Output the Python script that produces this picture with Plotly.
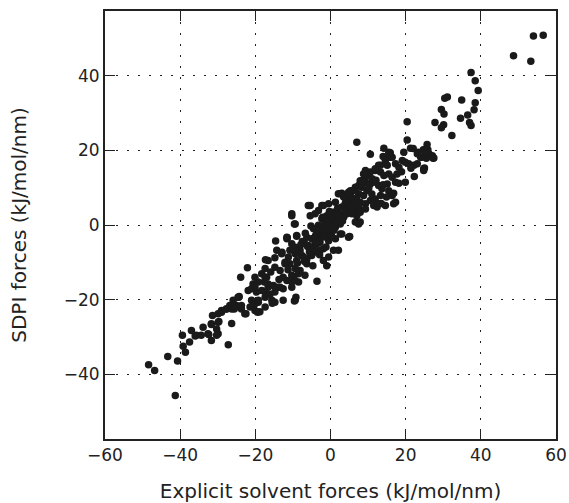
import plotly.graph_objects as go

# Upper tail (large positive forces)
high_x = [54.0, 56.6, 48.7, 53.3, 37.4, 38.5, 39.3, 30.4, 31.1, 34.9, 38.5, 29.5, 30.2, 38.2, 36.5, 34.6,
          27.8, 30.1, 29.5, 37.0, 37.4, 20.4, 32.3, 20.4, 7.0, 21.3, 22.0, 25.7, 25.3, 24.7, 25.9, 24.2,
          25.5, 27.3, 25.0, 10.6, 14.2, 15.9, 14.0, 15.5, 19.5, 23.3, 26.2, 27.1, 24.0, 23.1, 27.5, 25.3]
high_y = [50.7, 50.9, 45.4, 43.9, 40.9, 38.7, 36.1, 34.0, 34.3, 33.5, 32.8, 31.0, 29.8, 30.9, 29.5, 28.6,
          27.5, 26.9, 26.1, 27.5, 26.7, 27.7, 24.0, 22.8, 22.2, 20.6, 20.5, 21.6, 20.4, 20.2, 20.2, 18.2,
          17.9, 17.9, 15.3, 19.0, 20.6, 19.4, 18.4, 18.2, 19.5, 19.5, 19.1, 18.6, 18.2, 19.1, 18.0, 19.5]

# Upper band
upper_x = [19.1, 19.9, 20.8, 22.2, 23.1, 16.4, 17.3, 18.2, 24.8, 14.6, 15.1, 12.8, 11.9, 13.3, 14.2, 15.5,
           16.4, 17.3, 17.7, 19.9, 9.3, 10.1, 11.1, 7.9, 9.3, 10.6, 11.9, 12.8, 13.7, 15.1, 15.5, 16.4,
           13.3, 17.3, 6.6, 5.7, 5.3, 7.5, 8.8, 9.7, 4.8, 6.1, 7.9, 9.3, 10.6, 11.9, 11.5, 12.8,
           14.6, 12.4, 4.4, 5.7, 7.5, 9.3, 16.8, 16.8, 13.5, 14.9, 18.2, 22.3, 24.8, 3.0, 5.3, 7.9,
           9.3, 10.6, 11.9, 13.3, 15.9, 15.5, 2.6, 10.2, 12.1, 8.4, 6.9, 18.9, 21.4, 14.0, 11.0]
upper_y = [17.3, 16.8, 16.4, 16.0, 16.4, 18.2, 16.4, 15.5, 15.1, 17.3, 16.0, 16.0, 14.6, 14.2, 13.3, 13.7,
           12.8, 11.5, 13.7, 11.5, 14.6, 13.3, 12.4, 11.9, 11.5, 11.0, 11.5, 10.6, 9.7, 11.0, 9.2, 7.9,
           7.9, 6.1, 10.1, 9.2, 7.9, 8.4, 7.9, 9.2, 6.6, 6.1, 6.1, 5.7, 6.6, 7.0, 5.2, 5.7,
           5.2, 4.8, 4.8, 4.3, 4.3, 4.3, 8.5, 5.7, 5.8, 7.5, 11.2, 13.0, 14.6, 8.5, 9.2, 11.0,
           12.8, 14.2, 15.1, 16.0, 18.2, 19.5, 8.4, 9.9, 12.0, 10.1, 7.2, 14.3, 15.2, 10.8, 8.3]

# Core cluster around zero
core_x = [-10.3, -5.9, -9.4, -5.4, -4.1, -3.2, -2.3, -0.5, 1.3, 2.1, 3.5, 4.8, 6.6, 7.5, 8.4, 8.8,
          -2.3, -1.0, 0.4, 1.7, 3.0, 3.9, 5.3, 6.1, 4.8, 6.6, 7.5, 2.6, 4.8, -11.6, -9.0, -6.3,
          -5.0, -3.2, -1.4, 0.4, 1.3, 2.6, -5.9, -4.1, -2.8, -1.9, -3.6, -5.0, -6.3, -7.6, -8.1, -9.4,
          -10.8, -11.2, 2.1, -0.5, -1.4, -0.5, 0.4, -3.2, -4.5, -3.6, 0.8, 2.1, 3.5, 4.4, 5.7, 7.0,
          7.9, 6.6, 7.9, 5.1, 7.5, -1.0, -3.6, -4.7, -6.8, -9.2, -10.3, -5.4, -1.9, 3.0, 1.3, 0.8,
          -0.5, -1.9, -2.8, -3.6, -4.5, -5.4, -7.2, -9.0, -6.3, -8.1, -9.9, -8.5, -10.3, -9.6, -14.6, -11.5,
          -9.0, -11.6, -10.3, -9.4, -8.1, -2.0, -1.1, 0.1, 1.0, -0.6, 0.6, -2.6, 1.6, 2.4, -1.5, -4.0,
          -3.0, -6.1, -7.0, -2.1, -0.2, 3.2, -4.9, -7.5, -1.7, 0.9, 2.9, -3.9, -5.6, -7.9, -0.9, 1.9,
          4.1, -2.4, -6.7, -4.3, 0.3, 2.3, -1.2, -3.4, -5.2, 5.9, 1.6, -8.8, -6.9, -0.3, 3.7, -2.9]
core_y = [3.0, 5.2, 0.3, 2.5, 3.0, 3.9, 5.2, 5.7, 6.1, 8.4, 7.5, 8.8, 9.2, 10.6, 11.9, 13.7,
          1.7, 2.5, 3.4, 3.9, 4.8, 5.7, 6.1, 6.6, 4.3, 3.9, 5.2, -2.4, -3.3, -3.7, -2.8, -3.3,
          -3.7, -2.8, -2.4, -1.5, -0.6, 0.3, -5.5, -5.0, -4.6, -6.4, -7.3, -8.2, -9.1, -8.2, -6.8, -7.7,
          -6.8, -8.6, -6.8, -4.2, -0.6, 0.8, 1.7, -0.1, -1.0, -1.9, -0.1, 1.2, 2.1, 3.0, 3.0, 2.5,
          3.4, 0.8, 0.8, -3.1, 0.3, -10.9, -15.1, -10.9, -13.5, -19.4, 2.5, 5.2, 5.2, -2.4, -3.7, -6.8,
          -8.6, -9.5, -6.8, -5.0, -3.7, -7.7, -8.6, -9.5, -10.4, -12.2, -14.0, -15.3, -16.7, 0.3, -4.3, -3.4,
          -3.0, -3.3, -5.0, -6.0, -7.7, -2.1, -1.2, 0.2, 1.1, -2.4, -0.4, -1.6, 2.6, 1.8, 0.6, -2.9,
          -4.1, -5.8, -4.7, 2.1, -1.9, 1.1, -6.2, -4.4, -3.2, -1.4, 1.9, -4.8, -7.1, -5.3, 0.9, 4.5,
          6.3, -0.8, -2.2, -6.6, -3.0, 2.9, -5.9, -1.3, -0.3, 4.9, 0.4, -10.2, -9.8, 3.6, 3.3, -8.0]

# Lower band
lower_x = [-13.0, -12.1, -14.8, -13.4, -10.8, -9.4, -8.5, -10.3, -11.6, -9.4, -16.6, -17.4, -18.3, -17.0, -17.6, -22.1,
           -20.1, -19.2, -20.6, -21.9, -21.0, -19.7, -18.3, -17.4, -16.6, -15.2, -13.9, -12.6, -14.8, -12.6, -14.8, -15.6,
           -17.4, -19.2, -20.1, -21.0, -9.4, -24.6, -25.9, -25.0, -26.3, -27.7, -29.0, -29.9, -23.7, -22.8, -21.4, -20.1,
           -18.8, -17.4, -24.3, -26.8, -25.4, -23.7, -22.5, -17.3, -14.8, -12.1, -12.6, -17.4, -16.6, -20.1, -13.4, -10.3,
           -14.3, -12.9, -23.9, -19.4, -15.5, -9.6, -20.6, -19.2, -15.9, -11.3, -13.7, -16.1]
lower_y = [-7.7, -10.0, -11.3, -12.2, -10.4, -11.7, -13.1, -13.5, -14.9, -14.9, -9.5, -11.7, -13.1, -14.0, -15.3, -11.5,
           -14.0, -15.3, -15.8, -17.6, -17.1, -18.0, -17.6, -18.0, -16.7, -16.2, -16.7, -17.1, -18.0, -20.2, -20.7, -20.2,
           -19.4, -20.7, -21.1, -20.2, -20.2, -19.4, -20.2, -21.6, -22.5, -22.5, -22.9, -23.8, -22.5, -23.8, -22.0, -22.9,
           -23.3, -22.0, -19.2, -21.6, -21.8, -21.6, -23.8, -9.3, -8.8, -10.4, -14.0, -14.0, -15.8, -16.7, -16.7, -15.3,
           -6.8, -7.3, -14.0, -23.4, -21.0, -20.4, -21.6, -20.2, -12.6, -12.0, -14.6, -18.6]

# Lower tail (large negative forces)
low_x = [-31.4, -31.7, -29.9, -26.3, -30.3, -29.9, -31.7, -32.6, -33.9, -34.4, -35.7, -37.0, -37.5, -39.4, -39.2, -38.6,
         -27.2, -43.3, -40.7, -46.8, -48.4, -41.3, -29.0, -27.7, -29.7, -31.7, -36.0, -32.4, -30.3, -25.6, -24.4]
low_y = [-24.3, -26.5, -26.1, -26.4, -27.9, -29.2, -31.0, -29.2, -27.4, -29.6, -29.6, -28.3, -31.4, -29.6, -32.5, -34.1,
         -32.1, -35.3, -36.5, -39.0, -37.5, -45.7, -23.4, -22.5, -25.9, -26.7, -29.8, -29.4, -29.6, -22.5, -19.4]

explicit = high_x + upper_x + core_x + lower_x + low_x
sdpi = high_y + upper_y + core_y + lower_y + low_y
assert len(explicit) == len(sdpi)

x_ticks = [-60, -40, -20, 0, 20, 40, 60]
y_ticks = [-40, -20, 0, 20, 40]

fig = go.Figure(go.Scatter(
    x=explicit, y=sdpi, mode="markers",
    marker=dict(size=7.5, color="#1a1a1a", line=dict(width=0)),
    hoverinfo="skip",
))

axis_common = dict(
    showline=True, linewidth=2, linecolor="#222222", mirror="allticks",
    ticks="inside", ticklen=10, tickwidth=1.3, tickcolor="#222222",
    showgrid=True, gridcolor="#222222", gridwidth=1, griddash="2px,9px",
    zeroline=False, tickfont=dict(size=17, color="#222222"), automargin=False,
)

fig.update_layout(
    width=569, height=503,
    margin=dict(l=105, r=13, t=11, b=64),
    paper_bgcolor="white", plot_bgcolor="white",
    font=dict(family="DejaVu Sans", color="#222222"),
    showlegend=False,
    xaxis=dict(axis_common, range=[-60, 60], tickvals=x_ticks,
               title=dict(text="Explicit solvent forces (kJ/mol/nm)", font=dict(size=20), standoff=22)),
    yaxis=dict(axis_common, range=[-57.4, 57.4], tickvals=y_ticks,
               title=dict(text="SDPI forces (kJ/mol/nm)", font=dict(size=20), standoff=32)),
)

fig.write_html("out.html")
